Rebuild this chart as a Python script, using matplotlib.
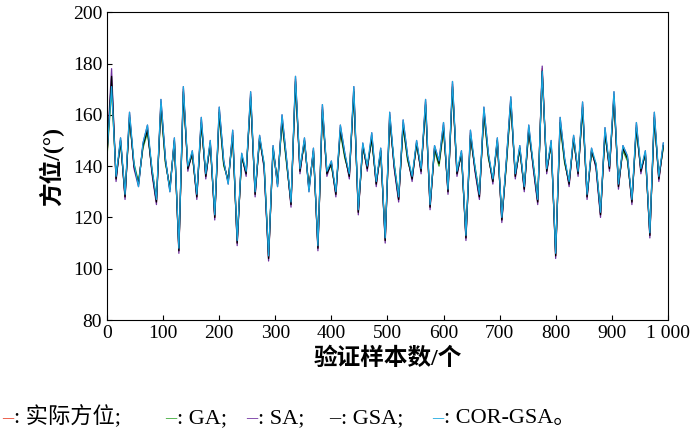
import numpy as np
import matplotlib.pyplot as plt

plt.rcParams['font.family'] = ['Liberation Serif', 'Noto Sans CJK SC']

# sample index (every 8th sample)
samples = list(range(0, 1000, 8))

actual = [145,172,135,150,128,160,140,133,148,155,
          138,126,165,142,131,150,107,170,139,145,
          128,158,136,149,120,162,141,134,153,110,
          144,137,168,129,151,140,104,147,133,159,
          142,125,174,138,150,131,146,108,163,137,
          141,129,155,144,136,170,122,148,139,152,
          133,146,111,160,140,127,157,143,135,149,
          138,165,124,147,141,156,130,172,137,145,
          112,153,139,128,162,144,134,150,119,141,
          166,136,147,131,155,140,126,178,138,149,
          105,158,142,133,151,137,164,128,146,140,
          121,154,139,168,132,147,143,126,156,138,
          145,113,160,135,148]
ga = [144,170,136,149,129,158,141,134,147,153,
      139,127,163,141,132,149,108,168,140,144,
      129,156,137,148,121,160,140,135,151,111,
      143,138,166,130,150,141,105,146,134,157,
      141,126,172,139,149,132,145,109,161,138,
      140,130,153,143,137,168,123,147,140,150,
      134,145,112,158,141,128,155,142,136,148,
      139,163,125,146,140,154,131,170,138,144,
      113,151,140,129,160,143,135,149,120,140,
      164,137,146,132,153,141,127,176,139,148,
      106,156,141,134,150,138,162,129,145,141,
      122,152,140,166,133,146,142,127,154,139,
      144,114,158,136,147]
sa = [146,178,134,151,127,161,139,132,149,156,
      137,125,166,143,130,151,106,171,138,146,
      127,159,135,150,119,163,142,133,154,109,
      145,136,169,128,152,139,103,148,132,160,
      143,124,175,137,151,130,147,107,164,136,
      142,128,156,145,135,171,121,149,138,153,
      132,147,110,161,139,126,158,144,134,150,
      137,166,123,148,142,157,129,173,136,146,
      111,154,138,127,163,145,133,151,118,142,
      167,135,148,130,156,139,125,179,137,150,
      104,159,143,132,152,136,165,127,147,139,
      120,155,138,169,131,148,144,125,157,137,
      146,112,161,134,149]
gsa = [145,175,135,150,128,159,140,133,148,154,
       138,126,164,142,131,150,107,169,139,145,
       128,157,136,149,120,161,141,134,152,110,
       144,137,167,129,151,140,104,147,133,158,
       142,125,173,138,150,131,146,108,162,137,
       141,129,154,144,136,169,122,148,139,151,
       133,146,111,159,140,127,156,143,135,149,
       138,164,124,147,141,155,130,171,137,145,
       112,152,139,128,161,144,134,150,119,141,
       165,136,147,131,154,140,126,177,138,149,
       105,157,142,133,151,137,163,128,146,140,
       121,153,139,167,132,147,143,126,155,138,
       145,113,159,135,148]
cor_gsa = [146,171,136,151,129,161,141,132,149,156,
           139,127,166,143,130,151,108,171,140,146,
           129,159,137,150,121,163,142,133,154,111,
           145,138,169,130,152,141,105,148,132,160,
           143,126,175,139,151,130,147,109,164,138,
           142,130,156,145,137,171,123,149,140,153,
           134,147,112,161,141,128,158,144,136,150,
           139,166,125,148,142,157,131,173,138,146,
           113,154,140,129,163,145,135,151,120,142,
           167,137,148,132,156,141,127,177,139,150,
           106,159,143,134,152,138,165,129,147,141,
           122,155,140,169,133,148,144,127,157,139,
           146,114,161,136,149]

colors = ['#e8432c', '#3aaa35', '#7030a0', '#000000', '#1aa7e0']
series = [actual, ga, sa, gsa, cor_gsa]

fig = plt.figure(figsize=(7, 4.36), dpi=100)
ax = fig.add_axes([0.153, 0.266, 0.801, 0.706])
for s, c in zip(series, colors):
    ax.plot(samples, s, color=c, lw=0.9)

ax.set_xlim(0, 1000)
ax.set_ylim(80, 200)
ax.set_xticks(range(0, 1001, 100))
ax.set_xticklabels([str(v) for v in range(0, 1000, 100)] + ['1 000'])
ax.set_yticks(range(80, 201, 20))
ax.tick_params(direction='in', labelsize=14, top=False, right=False)
ax.set_xlabel('验证样本数/个', fontsize=17, fontweight='bold', labelpad=4)
ax.set_ylabel('方位/(°)', fontsize=17, fontweight='bold', labelpad=6)

labels = [': 实际方位;', ': GA;', ': SA;', ': GSA;', ': COR-GSA。']
xs = [0.003, 0.236, 0.352, 0.47, 0.618]
for x, c, t in zip(xs, colors, labels):
    fig.text(x, 0.03, '–', color=c, fontsize=16, va='baseline')
    fig.text(x + 0.017, 0.03, t, fontsize=16, va='baseline')

fig.savefig('out.png', dpi=100)
